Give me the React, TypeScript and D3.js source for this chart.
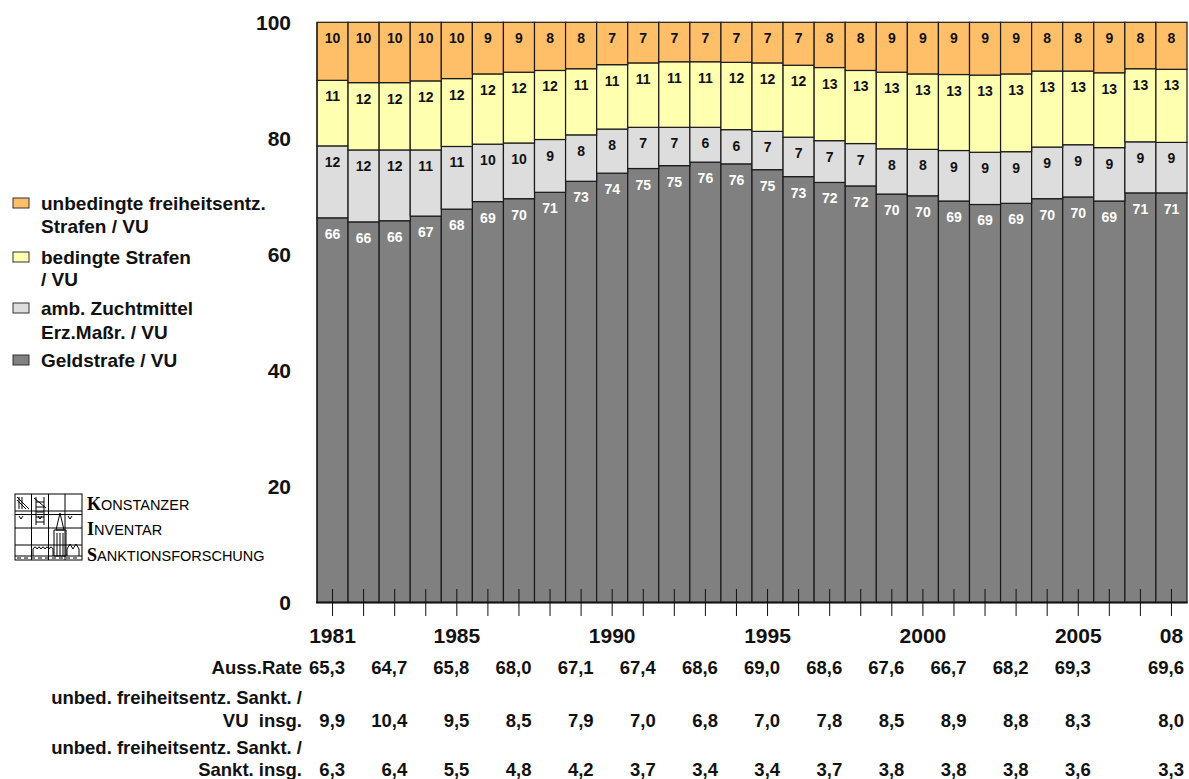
import React from "react";
import * as d3 from "d3";

// ---------- data ----------
const years = [1981, 1982, 1983, 1984, 1985, 1986, 1987, 1988, 1989, 1990, 1991, 1992, 1993, 1994,
  1995, 1996, 1997, 1998, 1999, 2000, 2001, 2002, 2003, 2004, 2005, 2006, 2007, 2008];

// Geldstrafe / VU
const geldstrafe = [66.3, 65.6, 65.8, 66.6, 67.8, 69.1, 69.6, 70.7, 72.6, 74.0, 74.8, 75.3, 75.9, 75.6,
  74.6, 73.4, 72.4, 71.8, 70.4, 70.1, 69.2, 68.6, 68.8, 69.6, 69.9, 69.2, 70.6, 70.6];
// amb. Zuchtmittel Erz.Maßr. / VU
const ambZucht = [12.4, 12.4, 12.2, 11.4, 10.8, 9.9, 9.6, 9.1, 8.0, 7.6, 7.1, 6.6, 6.0, 5.9,
  6.6, 6.8, 7.2, 7.3, 7.8, 8.0, 8.7, 9.0, 8.9, 8.9, 9.0, 9.2, 8.8, 8.7];
// bedingte Strafen / VU
const bedingt = [11.3, 11.6, 11.6, 11.9, 11.7, 12.1, 12.2, 11.9, 11.4, 11.1, 11.1, 11.3, 11.3, 11.6,
  11.8, 12.4, 12.6, 12.6, 13.2, 13.0, 13.1, 13.3, 13.4, 13.1, 12.7, 12.9, 12.6, 12.6];
// unbedingte freiheitsentz. Strafen / VU
const unbedingt = [10.0, 10.4, 10.4, 10.1, 9.7, 8.9, 8.6, 8.3, 8.0, 7.3, 7.0, 6.8, 6.8, 6.9,
  7.0, 7.4, 7.8, 8.3, 8.6, 8.9, 9.0, 9.1, 8.9, 8.4, 8.4, 8.7, 8.0, 8.1];

const yTicks = [0, 20, 40, 60, 80, 100];
const yearTickYears = [1981, 1985, 1990, 1995, 2000, 2005, 2008];
const yearTickLabels = ["1981", "1985", "1990", "1995", "2000", "2005", "08"];

const tableYears = [1981, 1983, 1985, 1987, 1989, 1991, 1993, 1995, 1997, 1999, 2001, 2003, 2005, 2008];
const aussRate = [65.3, 64.7, 65.8, 68.0, 67.1, 67.4, 68.6, 69.0, 68.6, 67.6, 66.7, 68.2, 69.3, 69.6];
const unbedVU = [9.9, 10.4, 9.5, 8.5, 7.9, 7.0, 6.8, 7.0, 7.8, 8.5, 8.9, 8.8, 8.3, 8.0];
const unbedSankt = [6.3, 6.4, 5.5, 4.8, 4.2, 3.7, 3.4, 3.4, 3.7, 3.8, 3.8, 3.8, 3.6, 3.3];

const seriesKeys = ["geld", "amb", "bed", "unbed"];
const seriesColors = ["#808080", "#DDDDDD", "#FFFFB0", "#FFBF69"];
const legendLines = [
  ["unbedingte freiheitsentz.", "Strafen / VU"],
  ["bedingte Strafen", "/ VU"],
  ["amb. Zuchtmittel", "Erz.Maßr. / VU"],
  ["Geldstrafe / VU"],
];
const legendColors = ["#FFBF69", "#FFFFB0", "#DDDDDD", "#808080"];

// ---------- layout ----------
const W = 1189;
const H = 779;
const FONT = "'Liberation Sans', Arial, Helvetica, sans-serif";
const SERIF = "'Liberation Serif', 'Times New Roman', serif";

export default function App() {
  const x = d3.scaleBand<number>().domain(years).range([317, 1187]).paddingInner(0).paddingOuter(0);
  const y = d3.scaleLinear().domain([0, 100]).range([602.5, 22.3]);
  const bw = x.bandwidth();

  const rows = years.map((yr, i) => ({
    year: yr,
    geld: geldstrafe[i],
    amb: ambZucht[i],
    bed: bedingt[i],
    unbed: unbedingt[i],
  }));
  const stacked = d3.stack<any>().keys(seriesKeys)(rows);

  const fmt = (v: number) => d3.format(".1f")(v).replace(".", ",");

  const legendY = [
    [203, 226],
    [257, 279],
    [308, 332],
    [360],
  ];

  const tableRows = [
    { labels: [["Auss.Rate", 667]], values: aussRate, vy: 667 },
    { labels: [["unbed. freiheitsentz. Sankt. /", 697], ["VU  insg.", 720]], values: unbedVU, vy: 720 },
    { labels: [["unbed. freiheitsentz. Sankt. /", 747], ["Sankt. insg.", 769]], values: unbedSankt, vy: 769 },
  ];

  return (
    <svg
      width={W}
      height={H}
      style={{ position: "absolute", left: 0, top: 0, background: "#fff" }}
      fontFamily={FONT}
    >
      <rect x={0} y={0} width={W} height={H} fill="#fff" />

      {/* bars */}
      {stacked.map((s, k) => (
        <g key={s.key}>
          {s.map((d: any) => (
            <rect
              key={d.data.year}
              x={x(d.data.year)}
              y={y(d[1])}
              width={bw}
              height={y(d[0]) - y(d[1])}
              fill={seriesColors[k]}
              stroke="#1a1a1a"
              strokeWidth={1.2}
            />
          ))}
        </g>
      ))}

      {/* segment labels */}
      {stacked.map((s, k) => (
        <g key={"l" + s.key}>
          {s.map((d: any) => (
            <text
              key={d.data.year}
              x={(x(d.data.year) as number) + bw / 2}
              y={y(d[1]) + 16}
              textAnchor="middle"
              dominantBaseline="central"
              fontSize={14}
              fontWeight="bold"
              fill={k === 0 ? "#ffffff" : "#111111"}
            >
              {Math.round(d[1] - d[0])}
            </text>
          ))}
        </g>
      ))}

      {/* axes */}
      <line x1={317} x2={317} y1={y(100)} y2={y(0)} stroke="#111" strokeWidth={1} />
      <line x1={316} x2={1187.5} y1={y(0)} y2={y(0)} stroke="#111" strokeWidth={2} />
      {years.map((yr) => (
        <line
          key={"t" + yr}
          x1={(x(yr) as number) + bw / 2}
          x2={(x(yr) as number) + bw / 2}
          y1={589}
          y2={616}
          stroke="#111"
          strokeWidth={1}
        />
      ))}
      {yTicks.map((t) => (
        <text
          key={"y" + t}
          x={291}
          y={y(t)}
          textAnchor="end"
          dominantBaseline="central"
          fontSize={21}
          fontWeight="bold"
          fill="#111"
        >
          {t}
        </text>
      ))}
      {yearTickYears.map((yr, i) => (
        <text
          key={"yl" + yr}
          x={(x(yr) as number) + bw / 2}
          y={635}
          textAnchor="middle"
          dominantBaseline="central"
          fontSize={21}
          fontWeight="bold"
          fill="#111"
        >
          {yearTickLabels[i]}
        </text>
      ))}

      {/* table */}
      {tableRows.map((r, ri) => (
        <g key={"tr" + ri} fontSize={18.5} fontWeight="bold" fill="#111">
          {r.labels.map(([txt, ly], li) => (
            <text
              key={li}
              x={302}
              y={ly as number}
              textAnchor="end"
              dominantBaseline="central"
              style={{ whiteSpace: "pre" }}
            >
              {txt}
            </text>
          ))}
          {r.values.map((v, i) => (
            <text
              key={"v" + i}
              x={(x(tableYears[i]) as number) + bw - 3}
              y={r.vy}
              textAnchor="end"
              dominantBaseline="central"
            >
              {fmt(v)}
            </text>
          ))}
        </g>
      ))}

      {/* legend */}
      {legendLines.map((lines, i) => (
        <g key={"lg" + i}>
          <rect
            x={13}
            y={legendY[i][0] - 5}
            width={16}
            height={10}
            fill={legendColors[i]}
            stroke="#333"
            strokeWidth={1}
          />
          {lines.map((ln, j) => (
            <text
              key={j}
              x={41}
              y={legendY[i][j]}
              dominantBaseline="central"
              fontSize={19}
              fontWeight="bold"
              fill="#111"
            >
              {ln}
            </text>
          ))}
        </g>
      ))}

      {/* logo */}
      <g stroke="#000" strokeWidth={1} fill="none">
        <rect x={15} y={494} width={67} height={66} />
        <line x1={31.5} y1={494} x2={31.5} y2={560} />
        <line x1={48.5} y1={494} x2={48.5} y2={560} />
        <line x1={65} y1={494} x2={65} y2={560} />
        <line x1={15} y1={511} x2={82} y2={511} />
        <line x1={15} y1={514.5} x2={82} y2={514.5} />
        <line x1={15} y1={528} x2={82} y2={528} />
        <line x1={15} y1={545} x2={82} y2={545} />
        <line x1={15} y1={556} x2={82} y2={556} />
        <path d="M17 497 L29 509 M17 500 L26 509 M19 497 L19 509 M22 497 L22 509" />
        <path d="M34 498 L46 508 M36 497 L36 525 M44 497 L44 525 M36 502 H44 M36 507 H44 M36 512 H44 M36 517 H44 M36 522 H44" />
        <path d="M19 516 L21 519 L23 516 M38 516 L40 519 L42 516 M68 516 L70 519 L72 516" />
        <path d="M56 530 L60 513 L64 530 Z" />
        <path d="M54 530 H66 V556 H54 Z M57 533 V556 M60 533 V556 M63 533 V556" />
        <path d="M33 556 V549 Q35 545 37 549 Q39 545 41 549 Q43 545 45 549 Q47 545 49 549 Q51 545 53 549 V556" />
        <path d="M67 556 V549 L70 544 L73 549 L76 544 L79 549 V556" />
        <path d="M17 558 H21 M24 558 H28 M31 558 H35 M38 558 H42 M45 558 H49 M52 558 H56 M59 558 H63 M66 558 H70 M73 558 H77" />
      </g>
      <g fill="#000">
        <text x={87} y={509.5}>
          <tspan fontFamily={SERIF} fontWeight="bold" fontSize={18}>K</tspan>
          <tspan fontFamily={FONT} fontSize={14.5}>ONSTANZER</tspan>
        </text>
        <text x={87} y={535}>
          <tspan fontFamily={SERIF} fontWeight="bold" fontSize={18}>I</tspan>
          <tspan fontFamily={FONT} fontSize={14.5}>NVENTAR</tspan>
        </text>
        <text x={87} y={561}>
          <tspan fontFamily={SERIF} fontWeight="bold" fontSize={18}>S</tspan>
          <tspan fontFamily={FONT} fontSize={14.5}>ANKTIONSFORSCHUNG</tspan>
        </text>
      </g>
    </svg>
  );
}
